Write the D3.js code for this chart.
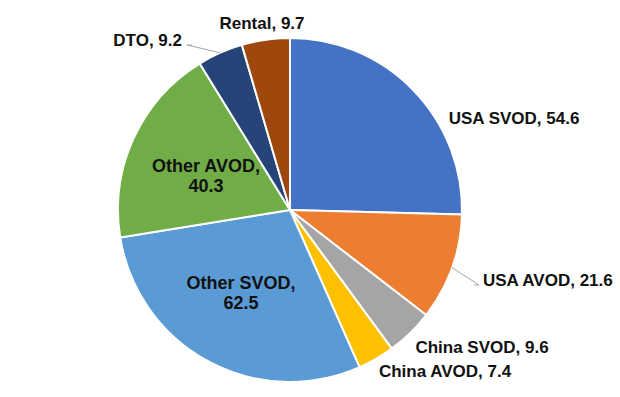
<!DOCTYPE html>
<html>
<head>
<meta charset="utf-8">
<script src="https://cdn.jsdelivr.net/npm/d3@7"></script>
<style>
  body { margin: 0; background: #fff; }
  svg { display: block; }
  text { font-family: Arial, "Liberation Sans", sans-serif; font-weight: bold; fill: #111; }
</style>
</head>
<body>
<script>
// Data for the pie, clockwise from 12 o'clock
const categories = ["USA SVOD", "USA AVOD", "China SVOD", "China AVOD", "Other SVOD", "Other AVOD", "DTO", "Rental"];
const values = [54.6, 21.6, 9.6, 7.4, 62.5, 40.3, 9.2, 9.7];
const colors = ["#4472C4", "#ED7D31", "#A5A5A5", "#FFC000", "#5B9BD5", "#70AD47", "#264478", "#9E480E"];

// Label placement (offset from pie centre, text-anchor, leader line?)
const labelLayout = [
  {dx: 224, dy: -86, anchor: "middle"},
  {dx: 193, dy: 76, anchor: "start", leader: [[-4, -1], [-9, -1]]},
  {dx: 192, dy: 143, anchor: "middle"},
  {dx: 155, dy: 167, anchor: "middle"},
  {dx: -49, dy: 79, anchor: "middle", inside: true},
  {dx: -84, dy: -38, anchor: "middle", inside: true},
  {dx: -108, dy: -164, anchor: "end", leader: [[5, -1], [10, -1]]},
  {dx: -28, dy: -181, anchor: "middle"}
];

const W = 620, H = 397;
const cx = 290, cy = 210, radius = 172;

const svg = d3.select("body")
  .append("svg")
    .attr("width", W)
    .attr("height", H);

const g = svg.append("g")
  .attr("transform", "translate(" + cx + "," + cy + ")");

const data = categories.map((c, i) => ({name: c, value: values[i], color: colors[i], lab: labelLayout[i]}));

const pie = d3.pie().value(d => d.value).sort(null);
const arc = d3.arc().innerRadius(0).outerRadius(radius);
const edgeArc = d3.arc().innerRadius(radius).outerRadius(radius);

const arcs = pie(data);

// Slices
g.selectAll("path.slice")
  .data(arcs)
  .enter()
  .append("path")
    .attr("class", "slice")
    .attr("d", arc)
    .attr("fill", d => d.data.color)
    .attr("stroke", "#fff")
    .attr("stroke-width", 2)
    .attr("stroke-linejoin", "round");

// Leader lines
arcs.filter(d => d.data.lab.leader).forEach(d => {
  const lab = d.data.lab;
  const start = edgeArc.centroid(d);
  const pts = [start, [lab.dx + lab.leader[0][0], lab.dy + lab.leader[0][1]], [lab.dx + lab.leader[1][0], lab.dy + lab.leader[1][1]]];
  g.append("path")
    .attr("d", d3.line()([pts[0], pts[1], pts[2]].reverse()))
    .attr("fill", "none")
    .attr("stroke", "#a6a6a6")
    .attr("stroke-width", 1);
});

// Labels
arcs.forEach(d => {
  const lab = d.data.lab;
  const t = g.append("text")
    .attr("text-anchor", lab.anchor)
    .style("font-size", lab.inside ? "18px" : "17px");
  if (lab.inside) {
    t.append("tspan").attr("x", lab.dx).attr("y", lab.dy).text(d.data.name + ",");
    t.append("tspan").attr("x", lab.dx).attr("y", lab.dy + 20).text(d3.format(".1f")(d.data.value));
  } else {
    t.attr("x", lab.dx).attr("y", lab.dy).text(d.data.name + ", " + d3.format(".1f")(d.data.value));
  }
});
</script>
</body>
</html>
